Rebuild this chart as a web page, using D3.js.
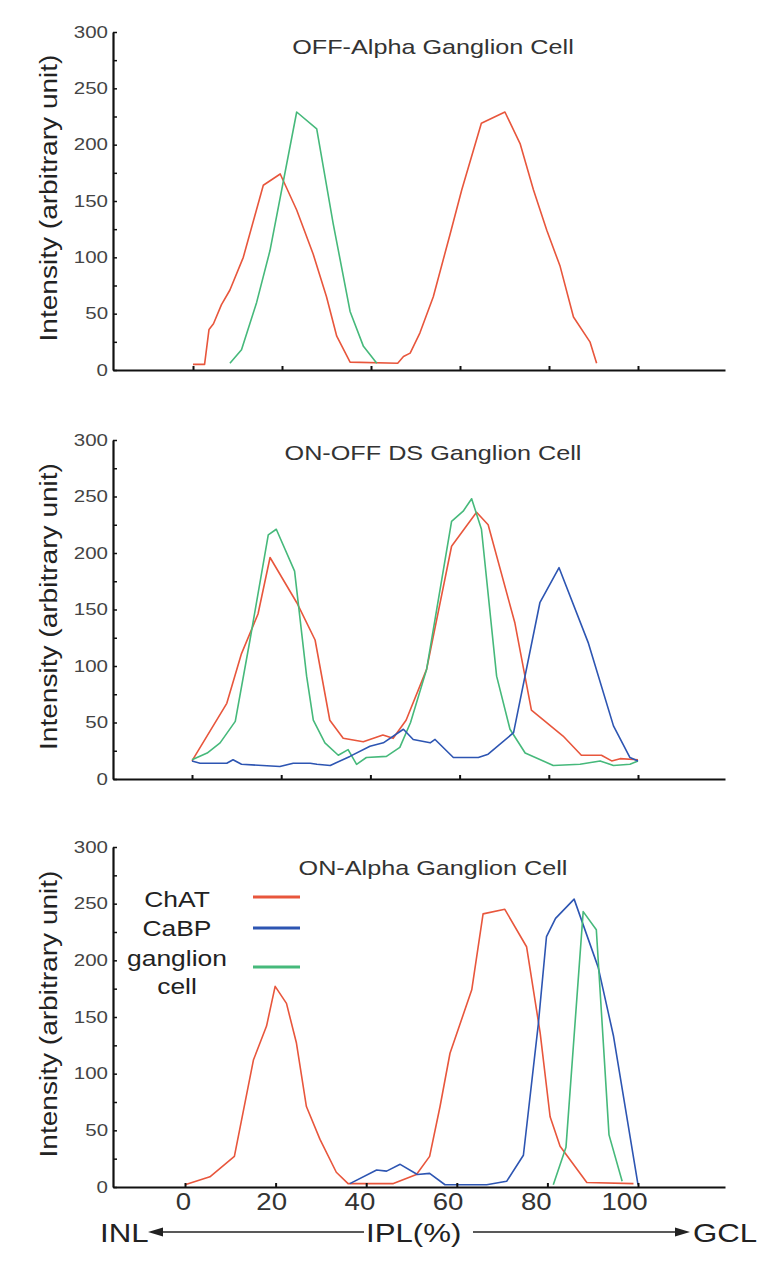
<!DOCTYPE html>
<html><head><meta charset="utf-8">
<script src="https://cdn.jsdelivr.net/npm/d3@7"></script>
<style>
html,body{margin:0;padding:0;background:#fff;}
svg text{font-family:"Liberation Sans",Arial,Helvetica,sans-serif;}
</style></head><body>
<svg id="c" width="780" height="1261"></svg>
<script>
// ---------- data ----------
const iplTicks = [0, 20, 40, 60, 80, 100];
const intensityTicks = [0, 25, 50, 75, 100, 125, 150, 175, 200, 225, 250, 275, 300];
const panelTitles = ["OFF-Alpha Ganglion Cell", "ON-OFF DS Ganglion Cell", "ON-Alpha Ganglion Cell"];
const seriesNames = ["ChAT", "CaBP", "ganglion cell"];

// [IPL %, intensity]
const offAlphaChAT = [[0,5],[2.6,5],[3.6,36],[4.6,41],[6.4,58],[8.3,71],[11.3,100],[15.8,164],[19.6,174],[23.3,142],[27,103],[30,65],[32.3,30],[35.3,7],[46,6],[47.3,12],[48.8,15],[51,33],[54,65],[57.8,121],[60.4,160],[64.8,219],[70.1,229],[73.5,201],[76.5,160],[79.5,124],[82.5,92],[85.5,47],[89.2,25],[90.7,6]];
const offAlphaGanglion = [[8.3,6],[10.9,18],[14.3,60],[17.3,106],[23.3,229],[27.8,214],[31.5,130],[35.3,52],[38.3,21],[41.3,6]];

const dsChAT = [[0,16],[7.8,67],[11.1,111],[14.8,146],[17.5,196],[23.5,156],[27.6,123],[30.9,52],[33.9,36],[38.4,33],[42.8,39],[45.1,36],[48,52],[52.6,97],[58.2,206],[63.8,236],[66.4,225],[72.4,138],[76.1,61],[83.2,38],[87.3,21],[91.8,21],[94.1,16],[96,18],[100,17]];
const dsCaBP = [[0,16],[1.8,14],[7.8,14],[9.2,17],[11.1,13],[19.7,11],[22.7,14],[26.5,14],[28,13],[31,12],[35.4,20],[39.9,29],[42.9,32],[47.4,44],[49.6,35],[53.4,32],[54.5,35],[58.6,19],[64.2,19],[66.4,22],[72.1,41],[78,156],[82.3,187],[88.9,120],[94.5,47],[98.2,19],[100,16]];
const dsGanglion = [[0,17],[3.4,23],[6.3,32],[9.7,51],[13,123],[17.1,216],[18.9,221],[23,184],[25.7,91],[27.2,52],[29.8,32],[32.8,21],[35,26],[36.9,13],[39.1,19],[43.6,20],[46.6,28],[49,50],[52.6,97],[58.2,228],[60.8,237],[62.7,248],[64.9,221],[68.3,91],[71.3,44],[74.7,23],[81,12],[87,13],[91.5,16],[94.5,12],[98.2,13],[100,16]];

const onAlphaChAT = [[0,2],[5.5,9],[10.9,27],[15.1,112],[18,142],[19.9,177],[22.4,162],[24.6,127],[26.8,71],[29.8,42],[33.4,13],[36,3],[46,3],[51.1,11],[54,27],[56.3,71],[58.5,118],[63.3,174],[65.8,241],[70.6,245],[75.4,212],[78.4,136],[80.6,62],[82.8,36],[88.7,4],[99,3]];
const onAlphaCaBP = [[36.4,3],[42.3,15],[44.5,14],[47.5,20],[51.3,11],[54,12],[57.4,2],[66.6,2],[71,5],[74.7,28],[78,144],[79.8,221],[81.8,237],[85.9,254],[91.2,194],[94.6,133],[100,2]];
const onAlphaGanglion = [[81.3,2],[84.1,35],[87.9,243],[90.8,227],[93.6,46],[96.5,5]];

// ---------- styling / layout ----------
const colors = {chat: "#e8563c", cabp: "#2d55b2", gang: "#46b97b"};
const K = 1.2; // horizontal glyph widening of the original typeface

const panels = [
  {title: panelTitles[0], x0: 193, x100: 638, yTop: 32, yBot: 370, titleY: 54, labels: false,
   series: [{d: offAlphaChAT, c: colors.chat}, {d: offAlphaGanglion, c: colors.gang}]},
  {title: panelTitles[1], x0: 192, x100: 638, yTop: 440, yBot: 779, titleY: 460, labels: false,
   series: [{d: dsChAT, c: colors.chat}, {d: dsGanglion, c: colors.gang}, {d: dsCaBP, c: colors.cabp}]},
  {title: panelTitles[2], x0: 185, x100: 638, yTop: 847, yBot: 1187, titleY: 875, labels: true,
   series: [{d: onAlphaChAT, c: colors.chat}, {d: onAlphaCaBP, c: colors.cabp}, {d: onAlphaGanglion, c: colors.gang}]}
];

const svg = d3.select("#c");
const AX_L = 113, AX_R = 725;

function stretch(sel, k) {
  sel.each(function () {
    const l = this.getComputedTextLength();
    if (l > 0) d3.select(this).attr("textLength", l * k).attr("lengthAdjust", "spacingAndGlyphs");
  });
}

panels.forEach(p => {
  const g = svg.append("g");
  const x = d3.scaleLinear().domain([0, 100]).range([p.x0, p.x100]);
  const y = d3.scaleLinear().domain([0, 300]).range([p.yBot, p.yTop]);
  const xAxisScale = x.copy().domain([x.invert(AX_L), x.invert(AX_R)]).range([AX_L, AX_R]);

  // curves
  const line = d3.line().x(d => x(d[0])).y(d => y(d[1]));
  p.series.forEach(s => {
    g.append("path").datum(s.d).attr("d", line)
      .attr("fill", "none").attr("stroke", s.c).attr("stroke-width", 1.6)
      .attr("stroke-linejoin", "round");
  });

  // y axis
  const ya = g.append("g").attr("transform", `translate(${AX_L},0)`)
    .call(d3.axisLeft(y).tickValues(intensityTicks)
      .tickFormat(d => d % 50 === 0 ? d : "")
      .tickSizeInner(-4).tickSizeOuter(0).tickPadding(5));
  ya.select(".domain").attr("stroke", "#111").attr("stroke-width", 2.2);
  ya.selectAll(".tick line").attr("stroke", "#111").attr("stroke-width", 1.5);
  ya.selectAll(".tick text").attr("font-size", 16).attr("fill", "#444")
    .attr("font-family", "Liberation Sans, Arial, sans-serif");
  stretch(ya.selectAll(".tick text"), K + 0.08);

  // x axis
  const xa = g.append("g").attr("transform", `translate(0,${p.yBot})`)
    .call(d3.axisBottom(xAxisScale).tickValues(iplTicks)
      .tickFormat(d => p.labels ? d : "")
      .tickSizeInner(-4).tickSizeOuter(0).tickPadding(7));
  xa.select(".domain").attr("stroke", "#111").attr("stroke-width", 2.2);
  xa.selectAll(".tick line").attr("stroke", "#111").attr("stroke-width", 2);
  xa.selectAll(".tick text").attr("font-size", 23).attr("fill", "#333")
    .attr("font-family", "Liberation Sans, Arial, sans-serif")
    .attr("dx", d => (-2 - d * 0.12));
  stretch(xa.selectAll(".tick text"), K);

  // title
  const t = g.append("text").attr("x", 433).attr("y", p.titleY)
    .attr("text-anchor", "middle").attr("font-size", 21).attr("fill", "#333").text(p.title);
  stretch(t, K);

  // y label
  const yl = g.append("text")
    .attr("transform", `translate(57,${(p.yTop + p.yBot) / 2 - 3}) rotate(-90)`)
    .attr("text-anchor", "middle").attr("font-size", 23).attr("fill", "#222")
    .text("Intensity (arbitrary unit)");
  stretch(yl, K + 0.02);
});

// legend (bottom panel)
const legend = svg.append("g");
const legendRows = [
  {lines: ["ChAT"], ys: [907], lineY: 897, c: colors.chat},
  {lines: ["CaBP"], ys: [936], lineY: 928, c: colors.cabp},
  {lines: ["ganglion", "cell"], ys: [966, 994], lineY: 967, c: colors.gang}
];
legendRows.forEach(r => {
  r.lines.forEach((s, i) => {
    const tt = legend.append("text").attr("x", 177).attr("y", r.ys[i])
      .attr("text-anchor", "middle").attr("font-size", 22).attr("fill", "#222").text(s);
    stretch(tt, K);
  });
  legend.append("line").attr("x1", 253).attr("x2", 300).attr("y1", r.lineY).attr("y2", r.lineY)
    .attr("stroke", r.c).attr("stroke-width", 3);
});

// bottom IPL annotation
const ann = svg.append("g");
const aY = 1232;
[["INL", 100, "start"], ["IPL(%)", 366, "start"], ["GCL", 693, "start"]].forEach(([s, xx, a]) => {
  const tt = ann.append("text").attr("x", xx).attr("y", 1242).attr("text-anchor", a)
    .attr("font-size", 26).attr("fill", "#222").text(s);
  stretch(tt, K);
});
ann.append("line").attr("x1", 160).attr("x2", 364).attr("y1", aY).attr("y2", aY).attr("stroke", "#222").attr("stroke-width", 1.5);
ann.append("path").attr("d", `M148,${aY} L163,${aY - 4.5} L163,${aY + 4.5} Z`).attr("fill", "#222");
ann.append("line").attr("x1", 473).attr("x2", 678).attr("y1", aY).attr("y2", aY).attr("stroke", "#222").attr("stroke-width", 1.5);
ann.append("path").attr("d", `M690,${aY} L675,${aY - 4.5} L675,${aY + 4.5} Z`).attr("fill", "#222");
</script>
</body></html>
